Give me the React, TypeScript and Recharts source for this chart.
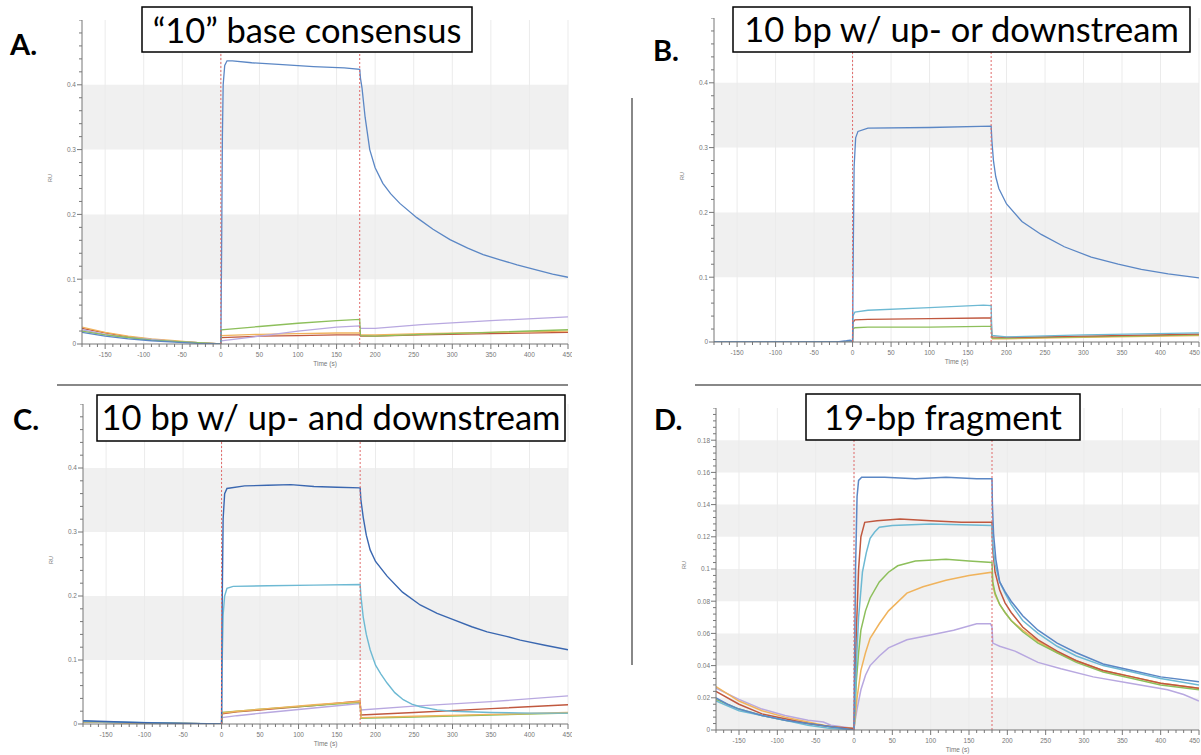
import React from 'react';
import { LineChart, Line, XAxis, YAxis, ReferenceArea, ReferenceLine } from 'recharts';

// ---------- colours ----------
const BLUE = '#5b87c5';
const BLUE_DARK = '#3a67b0';
const RED = '#c0583f';
const GREEN = '#8dbf5b';
const PURPLE = '#b8a8e0';
const CYAN = '#6db9d3';
const ORANGE = '#f0b35c';

// ---------- axes ----------
const xMajorTicks = [-150, -100, -50, 0, 50, 100, 150, 200, 250, 300, 350, 400, 450];
const xMinorTicks: number[] = [];
for (let t = -180; t <= 450; t += 10) xMinorTicks.push(t);
const yMajorTicksABC = [0, 0.1, 0.2, 0.3, 0.4];
const yMinorTicksABC: number[] = [];
for (let i = 0; i <= 25; i++) yMinorTicksABC.push(Math.round(i * 20) / 1000);
const yMajorTicksD = [0, 0.02, 0.04, 0.06, 0.08, 0.1, 0.12, 0.14, 0.16, 0.18];
const yMinorTicksD: number[] = [];
for (let i = 0; i <= 50; i++) yMinorTicksD.push(Math.round(i * 4) / 1000);
const bandsABC = [[0.1, 0.2], [0.3, 0.4]];
const bandsD = [[0, 0.02], [0.04, 0.06], [0.08, 0.1], [0.12, 0.14], [0.16, 0.18]];
const injectionMarks = [0, 180];

// ---------- Panel A ----------
const aBlueT = [-180,-150,-120,-90,-60,-30,0,1,2,3,5,8,15,40,80,120,160,180,181,183,187,193,200,210,220,232,254,275,297,320,340,362,384,410,430,450];
const aBlueV = [0.018,0.012,0.008,0.005,0.003,0.001,0.0,0.15,0.32,0.40,0.43,0.437,0.437,0.434,0.431,0.428,0.426,0.424,0.41,0.395,0.35,0.30,0.272,0.248,0.232,0.217,0.195,0.177,0.161,0.148,0.138,0.13,0.122,0.114,0.108,0.103];
const aLowT = [-180,-150,-120,-90,-60,-30,0,0.5,50,100,150,180,181,200,260,350,450];
const aOrangeV = [0.026,0.018,0.012,0.008,0.005,0.002,0.0,0.013,0.015,0.016,0.017,0.017,0.014,0.014,0.016,0.018,0.02];
const aRedV = [0.024,0.017,0.011,0.007,0.004,0.002,0.0,0.01,0.012,0.013,0.014,0.014,0.012,0.012,0.014,0.016,0.018];
const aGreenV = [0.02,0.014,0.01,0.006,0.004,0.002,0.0,0.022,0.027,0.032,0.036,0.038,0.013,0.012,0.015,0.018,0.022];
const aPurpleV = [0.022,0.015,0.01,0.007,0.004,0.002,0.0,0.005,0.012,0.02,0.026,0.028,0.024,0.024,0.03,0.036,0.042];

// ---------- Panel B ----------
const bBlueT = [-180,-60,-20,-8,-3,0,1,2,4,7,20,100,180,181,183,186,190,200,220,245,275,310,345,375,410,450];
const bBlueV = [0,0,0,0.002,0.003,0.001,0.15,0.27,0.315,0.325,0.33,0.331,0.333,0.31,0.28,0.255,0.237,0.213,0.186,0.166,0.147,0.131,0.12,0.112,0.105,0.099];
const bLowT = [-180,0,0.5,3,20,100,170,180,181,200,300,450];
const bCyanV = [0,0,0.04,0.046,0.049,0.053,0.057,0.056,0.01,0.008,0.011,0.014];
const bRedV = [0,0,0.03,0.034,0.035,0.036,0.037,0.037,0.008,0.007,0.009,0.012];
const bGreenV = [0,0,0.02,0.022,0.023,0.023,0.024,0.024,0.006,0.006,0.008,0.011];
const bOrangeT = [181,200,300,450];
const bOrangeV = [0.005,0.005,0.007,0.01];

// ---------- Panel C ----------
const cBlueT = [-180,-150,-100,-50,0,0.5,2,4,7,30,60,90,120,150,180,181,184,188,193,200,215,235,258,280,301,325,345,370,388,420,450];
const cBlueV = [0.005,0.004,0.002,0.001,0,0.15,0.32,0.36,0.368,0.372,0.373,0.374,0.371,0.37,0.369,0.35,0.323,0.295,0.272,0.254,0.231,0.206,0.186,0.173,0.163,0.152,0.144,0.137,0.131,0.123,0.116];
const cCyanT = [-180,0,0.5,2,4,7,15,60,120,180,181,184,188,193,200,207,215,225,236,247,258,280,300,350,400,450];
const cCyanV = [0.004,0,0.08,0.17,0.2,0.212,0.215,0.216,0.217,0.218,0.2,0.167,0.14,0.116,0.092,0.078,0.064,0.049,0.038,0.031,0.027,0.022,0.02,0.018,0.017,0.017];
const cLowT = [-180,0,0.5,20,60,120,180,181,250,350,450];
const cOrangeV = [0.003,0,0.017,0.02,0.024,0.03,0.035,0.01,0.012,0.015,0.018];
const cGreenV = [0.003,0,0.018,0.02,0.024,0.029,0.034,0.009,0.011,0.014,0.017];
const cRedV = [0.003,0,0.016,0.019,0.023,0.029,0.036,0.014,0.018,0.024,0.03];
const cPurpleV = [0.003,0,0.01,0.013,0.018,0.025,0.032,0.022,0.028,0.035,0.044];

// ---------- Panel D ----------
const dBlueT = [-180,-165,-150,-120,-90,-60,-30,0,0.5,2,4,6,10,40,80,120,160,180,180.5,182,185,190,197,205,220,240,265,290,325,363,400,450];
const dBlueV = [0.02,0.016,0.013,0.009,0.006,0.004,0.002,0,0.03,0.1,0.145,0.155,0.157,0.157,0.156,0.157,0.156,0.156,0.14,0.122,0.106,0.092,0.086,0.08,0.071,0.062,0.054,0.048,0.041,0.037,0.033,0.03];
const dRedT = [-180,-150,-120,-90,-60,-30,0,0.5,3,6,9,14,30,60,100,140,180,181,184,190,197,205,220,240,265,290,325,363,400,450];
const dRedV = [0.024,0.016,0.01,0.007,0.004,0.002,0.001,0.01,0.06,0.1,0.12,0.129,0.13,0.131,0.13,0.129,0.129,0.112,0.098,0.087,0.079,0.073,0.064,0.056,0.049,0.043,0.037,0.033,0.029,0.026];
const dCyanT = [-180,-150,-120,-90,-60,-30,0,0.5,3,6,11,16,21,27,33,50,100,180,181,184,190,197,205,220,240,265,290,325,363,400,450];
const dCyanV = [0.018,0.012,0.009,0.006,0.003,0.001,0,0.005,0.04,0.07,0.098,0.11,0.119,0.123,0.126,0.127,0.128,0.127,0.115,0.103,0.092,0.085,0.078,0.068,0.06,0.052,0.046,0.04,0.036,0.032,0.028];
const dGreenT = [-180,-150,-120,-90,-60,-30,0,0.5,3,6,9,15,21,33,45,57,80,120,150,180,181,184,190,197,205,220,240,265,290,325,363,400,450];
const dGreenV = [0.019,0.013,0.009,0.006,0.004,0.002,0,0.003,0.03,0.048,0.062,0.074,0.082,0.092,0.098,0.102,0.105,0.106,0.105,0.104,0.092,0.085,0.078,0.073,0.068,0.061,0.054,0.048,0.042,0.036,0.032,0.028,0.025];
const dOrangeT = [-180,-150,-120,-90,-60,-30,0,0.5,4,9,15,21,33,45,69,90,120,150,180,181,184,190,197,205,220,240,265,290,325,363,400,450];
const dOrangeV = [0.027,0.018,0.012,0.008,0.005,0.002,0.001,0.003,0.02,0.037,0.048,0.057,0.066,0.074,0.085,0.089,0.093,0.096,0.098,0.09,0.084,0.078,0.073,0.068,0.062,0.055,0.048,0.043,0.037,0.033,0.029,0.026];
const dPurpleT = [-180,-150,-120,-90,-60,-40,-30,0,0.5,4,9,15,21,33,45,69,100,130,160,178,180,181,190,210,240,270,312,360,409,430,450];
const dPurpleV = [0.026,0.019,0.013,0.009,0.006,0.005,0.003,0.001,0.003,0.013,0.025,0.034,0.04,0.046,0.051,0.056,0.059,0.062,0.066,0.066,0.064,0.054,0.052,0.049,0.042,0.038,0.033,0.029,0.025,0.022,0.018];

type Series = { color: string; t: number[]; v: number[] };
const zip = (t: number[], v: number[]) => t.map((x, i) => ({ t: x, v: v[i] }));

const TICK_FONT = 'Liberation Sans, Arial, sans-serif';

const makeXTick = (pageLeft: number) => (props: any) => {
  const { x, y, payload } = props;
  const val = payload.value;
  const major = xMajorTicks.includes(val);
  const nearEdge = pageLeft + x > 1190;
  return (
    <g>
      <line x1={x} y1={y} x2={x} y2={y + (major ? 5 : 3)} stroke="#777" strokeWidth={1} />
      {major && (
        <text x={nearEdge ? x + 1 : x} y={y + 13} textAnchor={nearEdge ? 'end' : 'middle'} fontSize={6.5} fill="#777" fontFamily={TICK_FONT}>
          {String(val)}
        </text>
      )}
    </g>
  );
};

const makeYTick = (majors: number[]) => (props: any) => {
  const { x, y, payload } = props;
  const val = payload.value;
  const m = majors.find((mm) => Math.abs(mm - val) < 1e-9);
  const major = m !== undefined;
  return (
    <g>
      <line x1={x} y1={y} x2={x - (major ? 5 : 3)} y2={y} stroke="#777" strokeWidth={1} />
      {major && (
        <text x={x - 6} y={y + 2.3} textAnchor="end" fontSize={6.5} fill="#777" fontFamily={TICK_FONT}>
          {String(m)}
        </text>
      )}
    </g>
  );
};

type PanelProps = {
  left: number; top: number; plotW: number; plotH: number; yMax: number;
  yMajor: number[]; yMinor: number[]; bands: number[][]; series: Series[]; lw: number;
};

function Panel({ left, top, plotW, plotH, yMax, yMajor, yMinor, bands, series, lw }: PanelProps) {
  const YW = 40, XH = 25, RM = 4;
  const W = YW + plotW + RM, H = plotH + XH;
  return (
    <div style={{ position: 'absolute', left: left - YW, top, width: W, height: H }}>
      <LineChart width={W} height={H} margin={{ top: 0, right: RM, bottom: 0, left: 0 }}>
        <XAxis
          dataKey="t" type="number" domain={[-180, 450]} allowDataOverflow
          ticks={xMinorTicks} interval={0} tickSize={0} tickMargin={0} tickLine={false}
          tick={makeXTick(left - YW)} height={XH} axisLine={{ stroke: '#777' }}
          label={{ value: 'Time (s)', position: 'insideBottom', offset: 3, fontSize: 6.5, fill: '#777', fontFamily: TICK_FONT }}
        />
        <YAxis
          type="number" domain={[0, yMax]} allowDataOverflow
          ticks={yMinor} interval={0} tickSize={0} tickMargin={0} tickLine={false}
          tick={makeYTick(yMajor)} width={YW} axisLine={{ stroke: '#777' }}
          label={{ value: 'RU', angle: -90, position: 'insideLeft', offset: 8, fontSize: 5.5, fill: '#777', fontFamily: TICK_FONT }}
        />
        {bands.map((b, i) => (
          <ReferenceArea key={'b' + i} y1={b[0]} y2={b[1]} fill="#f0f0f0" fillOpacity={1} stroke="none" ifOverflow="visible" />
        ))}
        {xMajorTicks.map((g) => (
          <ReferenceLine key={'g' + g} x={g} stroke="#ebebeb" strokeWidth={1} />
        ))}
        {series.map((s, i) => (
          <Line
            key={'s' + i} data={zip(s.t, s.v)} dataKey="v" type="linear" stroke={s.color}
            strokeWidth={lw} dot={false} isAnimationActive={false}
          />
        ))}
        {injectionMarks.map((m) => (
          <ReferenceLine key={'r' + m} x={m} stroke="#e06a6a" strokeDasharray="2 2" strokeWidth={1} />
        ))}
      </LineChart>
    </div>
  );
}

const TITLE_FONT = 'Lato, "Open Sans", sans-serif';
const TITLE_SIZE = 34.5;

export default function App() {
  return (
    <div style={{ position: 'absolute', left: 0, top: 0, width: 1201, height: 755, background: '#fff', overflow: 'hidden' }}>
      <Panel left={82} top={20} plotW={486} plotH={324} yMax={0.5} lw={1.3}
        yMajor={yMajorTicksABC} yMinor={yMinorTicksABC} bands={bandsABC}
        series={[
          { color: RED, t: aLowT, v: aRedV },
          { color: ORANGE, t: aLowT, v: aOrangeV },
          { color: PURPLE, t: aLowT, v: aPurpleV },
          { color: GREEN, t: aLowT, v: aGreenV },
          { color: BLUE, t: aBlueT, v: aBlueV },
        ]} />
      <Panel left={714} top={18} plotW={485} plotH={324} yMax={0.5} lw={1.3}
        yMajor={yMajorTicksABC} yMinor={yMinorTicksABC} bands={bandsABC}
        series={[
          { color: ORANGE, t: bOrangeT, v: bOrangeV },
          { color: GREEN, t: bLowT, v: bGreenV },
          { color: RED, t: bLowT, v: bRedV },
          { color: CYAN, t: bLowT, v: bCyanV },
          { color: BLUE, t: bBlueT, v: bBlueV },
        ]} />
      <Panel left={83} top={404} plotW={485} plotH={320} yMax={0.5} lw={1.4}
        yMajor={yMajorTicksABC} yMinor={yMinorTicksABC} bands={bandsABC}
        series={[
          { color: PURPLE, t: cLowT, v: cPurpleV },
          { color: RED, t: cLowT, v: cRedV },
          { color: GREEN, t: cLowT, v: cGreenV },
          { color: ORANGE, t: cLowT, v: cOrangeV },
          { color: CYAN, t: cCyanT, v: cCyanV },
          { color: BLUE_DARK, t: cBlueT, v: cBlueV },
        ]} />
      <Panel left={716} top={408} plotW={483} plotH={322} yMax={0.2} lw={1.5}
        yMajor={yMajorTicksD} yMinor={yMinorTicksD} bands={bandsD}
        series={[
          { color: PURPLE, t: dPurpleT, v: dPurpleV },
          { color: ORANGE, t: dOrangeT, v: dOrangeV },
          { color: GREEN, t: dGreenT, v: dGreenV },
          { color: RED, t: dRedT, v: dRedV },
          { color: CYAN, t: dCyanT, v: dCyanV },
          { color: BLUE, t: dBlueT, v: dBlueV },
        ]} />
      <svg width={1201} height={755} style={{ position: 'absolute', left: 0, top: 0, pointerEvents: 'none' }}>
        <line x1={57} y1={385} x2={568} y2={385} stroke="#888" strokeWidth={2} />
        <line x1={695} y1={385} x2={1201} y2={385} stroke="#888" strokeWidth={2} />
        <line x1={632} y1={98} x2={632} y2={665} stroke="#888" strokeWidth={2} />

        <rect x={142} y={7} width={330} height={45} fill="#fff" stroke="#000" strokeWidth={1.5} />
        <text x={307} y={43} textAnchor="middle" fontSize={TITLE_SIZE} fontFamily={TITLE_FONT} fill="#000">“10” base consensus</text>
        <rect x={733} y={7} width={457} height={45} fill="#fff" stroke="#000" strokeWidth={1.5} />
        <text x={961.5} y={42} textAnchor="middle" fontSize={TITLE_SIZE} fontFamily={TITLE_FONT} fill="#000">10 bp w/ up- or downstream</text>
        <rect x={97} y={395} width={468} height={46} fill="#fff" stroke="#000" strokeWidth={1.5} />
        <text x={331} y={430} textAnchor="middle" fontSize={TITLE_SIZE} fontFamily={TITLE_FONT} fill="#000">10 bp w/ up- and downstream</text>
        <rect x={806} y={394} width={274} height={46} fill="#fff" stroke="#000" strokeWidth={1.5} />
        <text x={943} y={430} textAnchor="middle" fontSize={TITLE_SIZE} fontFamily={TITLE_FONT} fill="#000">19-bp fragment</text>

        <text x={10} y={55} fontSize={29} fontWeight="bold" fontFamily={TITLE_FONT} fill="#000">A.</text>
        <text x={653} y={61} fontSize={29} fontWeight="bold" fontFamily={TITLE_FONT} fill="#000">B.</text>
        <text x={13} y={430} fontSize={29} fontWeight="bold" fontFamily={TITLE_FONT} fill="#000">C.</text>
        <text x={654} y={430} fontSize={29} fontWeight="bold" fontFamily={TITLE_FONT} fill="#000">D.</text>
      </svg>
    </div>
  );
}
